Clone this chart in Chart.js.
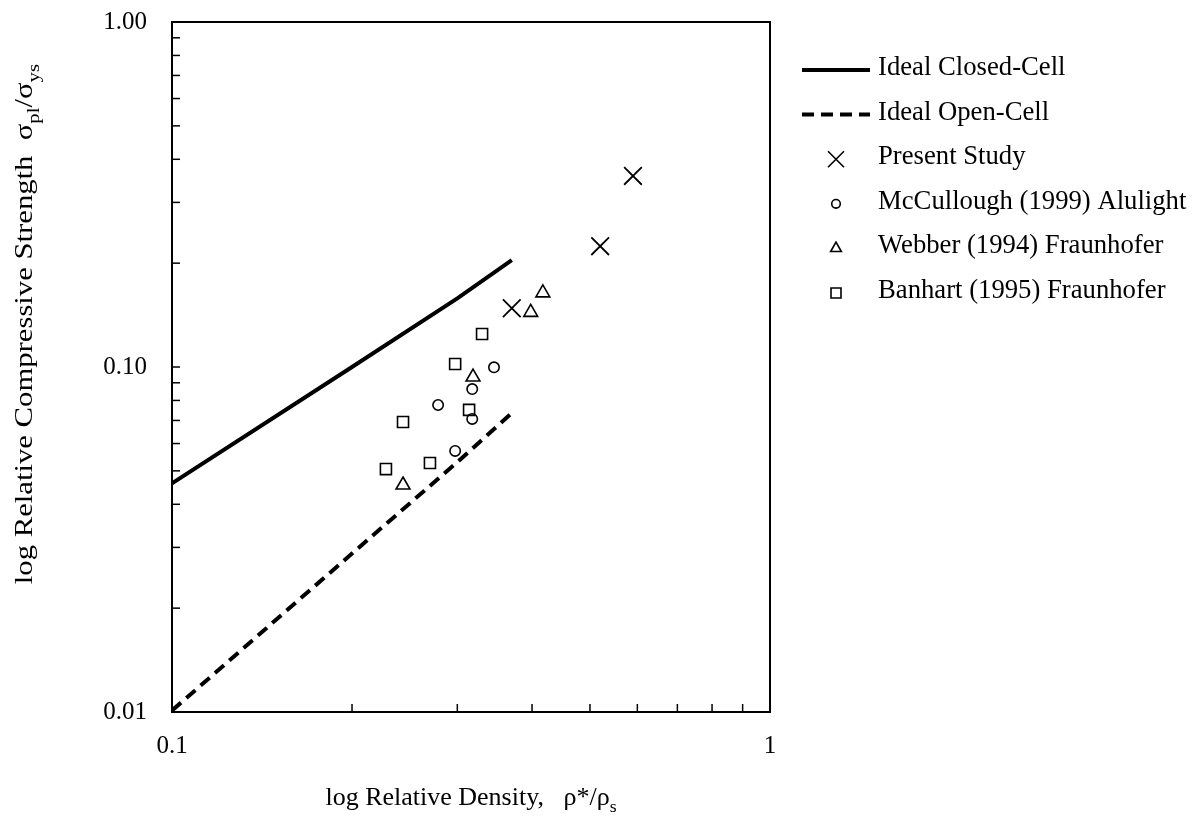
<!DOCTYPE html>
<html>
<head>
<meta charset="utf-8">
<script src="https://cdn.jsdelivr.net/npm/chart.js@4.4.0/dist/chart.umd.min.js"></script>
<style>
  html, body { margin: 0; padding: 0; background: #fff; }
  #wrap { width: 1200px; height: 826px; }
</style>
</head>
<body>
<div id="wrap"><canvas id="myChart" width="1200" height="826"></canvas></div>
<script>
// --- data (log-log plot) ---
const closedX = [0.1, 0.2, 0.3, 0.37];
const closedY = [0.046, 0.100, 0.158, 0.204];
const openX = [0.1, 0.2, 0.3, 0.37];
const openY = [0.0101, 0.0288, 0.053, 0.0735];
const presentX = [0.37, 0.52, 0.59];
const presentY = [0.148, 0.224, 0.358];
const mccX = [0.3455, 0.3177, 0.2786, 0.3177, 0.2975];
const mccY = [0.0998, 0.0863, 0.0776, 0.0707, 0.0571];
const webberX = [0.417, 0.398, 0.3187, 0.2434];
const webberY = [0.164, 0.144, 0.0935, 0.0455];
const banhartX = [0.330, 0.2975, 0.2434, 0.3139, 0.2279, 0.270];
const banhartY = [0.1246, 0.102, 0.0693, 0.0751, 0.0506, 0.0527];

const seriesNames = ['Ideal Closed-Cell', 'Ideal Open-Cell', 'Present Study',
  'McCullough (1999) Alulight', 'Webber (1994) Fraunhofer', 'Banhart (1995) Fraunhofer'];

// tick values and their labels (only decades are labelled)
const xTicks = [0.1, 0.2, 0.3, 0.4, 0.5, 0.6, 0.7, 0.8, 0.9, 1];
const xTickLabels = ['0.1', '', '', '', '', '', '', '', '', '1'];
const yTicks = [0.01, 0.02, 0.03, 0.04, 0.05, 0.06, 0.07, 0.08, 0.09,
  0.1, 0.2, 0.3, 0.4, 0.5, 0.6, 0.7, 0.8, 0.9, 1];
const yTickLabels = ['0.01', '', '', '', '', '', '', '', '',
  '0.10', '', '', '', '', '', '', '', '', '1.00'];

const xTitle = [{ t: 'log Relative Density,   \u03c1*/\u03c1' }, { t: 's', sub: true }];
const yTitle = [{ t: 'log Relative Compressive Strength  \u03c3' }, { t: 'pl', sub: true },
  { t: '/\u03c3' }, { t: 'ys', sub: true }];

const FONT = '"Liberation Serif", "Times New Roman", serif';

function toPoints(xs, ys) {
  return xs.map((x, i) => ({ x, y: ys[i] }));
}

// rich text with subscripts, centred on the current origin
function drawRich(ctx, parts, size) {
  const subSize = size * 0.68;
  let total = 0;
  parts.forEach(p => {
    ctx.font = `${p.sub ? subSize : size}px ${FONT}`;
    p.w = ctx.measureText(p.t).width;
    total += p.w;
  });
  let x = -total / 2;
  parts.forEach(p => {
    ctx.font = `${p.sub ? subSize : size}px ${FONT}`;
    ctx.fillText(p.t, x, p.sub ? size * 0.28 : 0);
    x += p.w;
  });
}

function drawSymbol(ctx, style, cx, cy, r) {
  ctx.beginPath();
  if (style === 'crossRot') {
    ctx.moveTo(cx - r, cy - r); ctx.lineTo(cx + r, cy + r);
    ctx.moveTo(cx - r, cy + r); ctx.lineTo(cx + r, cy - r);
  } else if (style === 'circle') {
    ctx.arc(cx, cy, r, 0, Math.PI * 2);
  } else if (style === 'triangle') {
    ctx.moveTo(cx, cy - r);
    ctx.lineTo(cx + r * 0.866, cy + r * 0.5);
    ctx.lineTo(cx - r * 0.866, cy + r * 0.5);
    ctx.closePath();
  } else if (style === 'rect') {
    ctx.rect(cx - r, cy - r, 2 * r, 2 * r);
  }
  ctx.stroke();
}

// frame, inward minor ticks, axis titles
const frameAndTitles = {
  id: 'frameAndTitles',
  afterDraw(chart) {
    const { ctx, chartArea: a, scales } = chart;
    ctx.save();
    ctx.strokeStyle = '#000';
    ctx.fillStyle = '#000';
    ctx.lineWidth = 1.5;
    yTicks.forEach(v => {
      const py = scales.y.getPixelForValue(v);
      ctx.beginPath(); ctx.moveTo(a.left, py); ctx.lineTo(a.left + 8, py); ctx.stroke();
    });
    xTicks.forEach(v => {
      const px = scales.x.getPixelForValue(v);
      ctx.beginPath(); ctx.moveTo(px, a.bottom); ctx.lineTo(px, a.bottom - 8); ctx.stroke();
    });
    ctx.lineWidth = 2;
    ctx.strokeRect(a.left, a.top, a.right - a.left, a.bottom - a.top);

    ctx.textBaseline = 'alphabetic';
    ctx.textAlign = 'left';
    // x title
    ctx.save();
    ctx.translate((a.left + a.right) / 2, 805);
    drawRich(ctx, xTitle, 26);
    ctx.restore();
    // y title (a bit stretched along its length, like the reference)
    ctx.save();
    ctx.translate(32, 324);
    ctx.rotate(-Math.PI / 2);
    ctx.scale(1.18, 1);
    drawRich(ctx, yTitle, 26);
    ctx.restore();
    ctx.restore();
  }
};

// legend on the right
const sideLegend = {
  id: 'sideLegend',
  afterDraw(chart) {
    const { ctx } = chart;
    const x0 = 802, x1 = 870, textX = 878, top = 70, step = 44.6;
    ctx.save();
    ctx.strokeStyle = '#000';
    ctx.fillStyle = '#000';
    ctx.font = `26.7px ${FONT}`;
    ctx.textBaseline = 'middle';
    ctx.textAlign = 'left';
    chart.data.datasets.forEach((ds, i) => {
      const y = top + i * step;
      if (ds.showLine) {
        ctx.lineWidth = 4;
        ctx.setLineDash(ds.borderDash || []);
        ctx.beginPath(); ctx.moveTo(x0, y); ctx.lineTo(x1, y); ctx.stroke();
        ctx.setLineDash([]);
      } else {
        ctx.lineWidth = 1.6;
        drawSymbol(ctx, ds.pointStyle, (x0 + x1) / 2, y, ds.legendSize);
      }
      ctx.fillText(ds.label, textX, y - 2);
    });
    ctx.restore();
  }
};

const ctx = document.getElementById('myChart').getContext('2d');
const myChart = new Chart(ctx, {
  type: 'scatter',
  data: {
    datasets: [
      {
        label: seriesNames[0], data: toPoints(closedX, closedY), showLine: true,
        borderColor: '#000', borderWidth: 4, pointRadius: 0, fill: false
      },
      {
        label: seriesNames[1], data: toPoints(openX, openY), showLine: true,
        borderColor: '#000', borderWidth: 4, borderDash: [12, 7], pointRadius: 0, fill: false
      },
      {
        label: seriesNames[2], data: toPoints(presentX, presentY), showLine: false,
        pointStyle: 'crossRot', pointRadius: 12.5, borderColor: '#000', borderWidth: 1.8,
        backgroundColor: 'rgba(0,0,0,0)', legendSize: 8
      },
      {
        label: seriesNames[3], data: toPoints(mccX, mccY), showLine: false,
        pointStyle: 'circle', pointRadius: 5.2, borderColor: '#000', borderWidth: 1.6,
        backgroundColor: 'rgba(0,0,0,0)', legendSize: 4.3
      },
      {
        label: seriesNames[4], data: toPoints(webberX, webberY), showLine: false,
        pointStyle: 'triangle', pointRadius: 8, borderColor: '#000', borderWidth: 1.6,
        backgroundColor: 'rgba(0,0,0,0)', legendSize: 6.2
      },
      {
        label: seriesNames[5], data: toPoints(banhartX, banhartY), showLine: false,
        pointStyle: 'rect', pointRadius: 7.8, borderColor: '#000', borderWidth: 1.6,
        backgroundColor: 'rgba(0,0,0,0)', legendSize: 5
      }
    ]
  },
  options: {
    responsive: false,
    animation: false,
    events: [],
    layout: { padding: { left: 0, top: 22, right: 430, bottom: 0 } },
    plugins: {
      legend: { display: false },
      tooltip: { enabled: false }
    },
    scales: {
      x: {
        type: 'logarithmic', min: 0.1, max: 1,
        afterBuildTicks: s => { s.ticks = xTicks.map(v => ({ value: v })); },
        afterFit: s => { s.height = 114; s.paddingLeft = 0; s.paddingRight = 0; },
        grid: { display: false, drawTicks: false },
        border: { display: false },
        ticks: {
          autoSkip: false, maxRotation: 0, padding: 19, color: '#000',
          font: { family: FONT, size: 25 },
          callback: (v, i) => xTickLabels[i]
        }
      },
      y: {
        type: 'logarithmic', min: 0.01, max: 1,
        afterBuildTicks: s => { s.ticks = yTicks.map(v => ({ value: v })); },
        afterFit: s => { s.width = 172; s.paddingTop = 0; s.paddingBottom = 0; },
        grid: { display: false, drawTicks: false },
        border: { display: false },
        ticks: {
          autoSkip: false, padding: 25, color: '#000',
          font: { family: FONT, size: 25 },
          callback: (v, i) => yTickLabels[i]
        }
      }
    }
  },
  plugins: [frameAndTitles, sideLegend]
});
</script>
</body>
</html>
